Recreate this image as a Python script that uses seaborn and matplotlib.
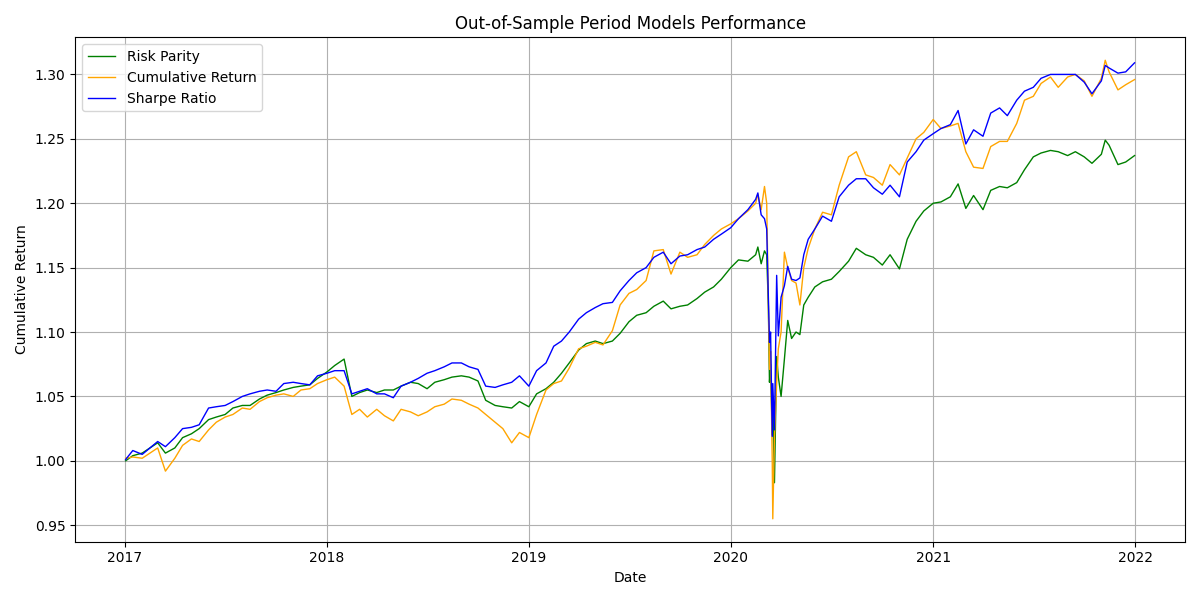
import pandas as pd
import numpy as np
import matplotlib
matplotlib.use("Agg")
import matplotlib.pyplot as plt
import seaborn as sns

# Dates of the read-off points (semi-monthly, denser around the 2020 crash)
dates = [
    # 2017
    "2017-01-02", "2017-01-15", "2017-02-01", "2017-02-15", "2017-03-01", "2017-03-15",
    "2017-04-01", "2017-04-15", "2017-05-01", "2017-05-15", "2017-06-01", "2017-06-15",
    "2017-07-01", "2017-07-15", "2017-08-01", "2017-08-15", "2017-09-01", "2017-09-15",
    "2017-10-01", "2017-10-15", "2017-11-01", "2017-11-15", "2017-12-01", "2017-12-15",
    # 2018
    "2018-01-01", "2018-01-15", "2018-02-01", "2018-02-15", "2018-03-01", "2018-03-15",
    "2018-04-01", "2018-04-15", "2018-05-01", "2018-05-15", "2018-06-01", "2018-06-15",
    "2018-07-01", "2018-07-15", "2018-08-01", "2018-08-15", "2018-09-01", "2018-09-15",
    "2018-10-01", "2018-10-15", "2018-11-01", "2018-11-15", "2018-12-01", "2018-12-15",
    # 2019
    "2019-01-01", "2019-01-15", "2019-02-01", "2019-02-15", "2019-03-01", "2019-03-15",
    "2019-04-01", "2019-04-15", "2019-05-01", "2019-05-15", "2019-06-01", "2019-06-15",
    "2019-07-01", "2019-07-15", "2019-08-01", "2019-08-15", "2019-09-01", "2019-09-15",
    "2019-10-01", "2019-10-15", "2019-11-01", "2019-11-15", "2019-12-01", "2019-12-15",
    # 2020
    "2020-01-01", "2020-01-15", "2020-02-01", "2020-02-15", "2020-02-19", "2020-02-25",
    "2020-03-02", "2020-03-06", "2020-03-09", "2020-03-11", "2020-03-13", "2020-03-16",
    "2020-03-17", "2020-03-20", "2020-03-24", "2020-03-27", "2020-04-01", "2020-04-07",
    "2020-04-13", "2020-04-20", "2020-04-28", "2020-05-05", "2020-05-12", "2020-05-20",
    "2020-06-01", "2020-06-15", "2020-07-01", "2020-07-15", "2020-08-01", "2020-08-15",
    "2020-09-01", "2020-09-15", "2020-10-01", "2020-10-15", "2020-11-01", "2020-11-15",
    "2020-12-01", "2020-12-15",
    # 2021
    "2021-01-01", "2021-01-15", "2021-02-01", "2021-02-15", "2021-03-01", "2021-03-15",
    "2021-04-01", "2021-04-15", "2021-05-01", "2021-05-15", "2021-06-01", "2021-06-15",
    "2021-07-01", "2021-07-15", "2021-08-01", "2021-08-15", "2021-09-01", "2021-09-15",
    "2021-10-01", "2021-10-15", "2021-11-01", "2021-11-08", "2021-11-15", "2021-12-01",
    "2021-12-15", "2021-12-31",
]

risk_parity = [
    1.000, 1.004, 1.006, 1.010, 1.014, 1.006, 1.010, 1.018, 1.021, 1.025, 1.032, 1.034,
    1.036, 1.041, 1.043, 1.043, 1.048, 1.051, 1.053, 1.055, 1.057, 1.058, 1.059, 1.064,
    1.069, 1.074, 1.079, 1.050, 1.053, 1.055, 1.053, 1.055, 1.055, 1.058, 1.061, 1.060,
    1.056, 1.061, 1.063, 1.065, 1.066, 1.065, 1.062, 1.047, 1.043, 1.042, 1.041, 1.046,
    1.042, 1.052, 1.056, 1.061, 1.068, 1.076, 1.086, 1.091, 1.093, 1.091, 1.093, 1.099,
    1.108, 1.113, 1.115, 1.120, 1.124, 1.118, 1.120, 1.121, 1.126, 1.131, 1.135, 1.141,
    1.150, 1.156, 1.155, 1.160, 1.166, 1.153, 1.163, 1.160, 1.120, 1.061, 1.075, 1.020,
    1.040, 0.983, 1.081, 1.065, 1.050, 1.079, 1.109, 1.095, 1.100, 1.098, 1.121, 1.127,
    1.135, 1.139, 1.141, 1.147, 1.155, 1.165, 1.160, 1.158, 1.152, 1.160, 1.149, 1.172,
    1.186, 1.194,
    1.200, 1.201, 1.205, 1.215, 1.196, 1.206, 1.195, 1.210, 1.213, 1.212, 1.216, 1.226,
    1.236, 1.239, 1.241, 1.240, 1.237, 1.240, 1.236, 1.231, 1.238, 1.249, 1.245, 1.230,
    1.232, 1.237,
]

cumulative_return = [
    1.002, 1.003, 1.002, 1.006, 1.010, 0.992, 1.002, 1.012, 1.017, 1.015, 1.024, 1.030,
    1.034, 1.036, 1.041, 1.040, 1.046, 1.049, 1.051, 1.052, 1.050, 1.055, 1.056, 1.060,
    1.063, 1.065, 1.058, 1.036, 1.040, 1.034, 1.040, 1.035, 1.031, 1.040, 1.038, 1.035,
    1.038, 1.042, 1.044, 1.048, 1.047, 1.044, 1.041, 1.036, 1.030, 1.025, 1.014, 1.022,
    1.018, 1.036, 1.055, 1.060, 1.062, 1.072, 1.087, 1.089, 1.092, 1.090, 1.101, 1.121,
    1.130, 1.133, 1.140, 1.163, 1.164, 1.145, 1.162, 1.158, 1.160, 1.168, 1.175, 1.180,
    1.184, 1.188, 1.194, 1.200, 1.207, 1.195, 1.213, 1.200, 1.120, 1.071, 1.085, 1.000,
    0.955, 1.019, 1.060, 1.087, 1.100, 1.162, 1.150, 1.140, 1.138, 1.121, 1.150, 1.165,
    1.180, 1.193, 1.191, 1.214, 1.236, 1.240, 1.222, 1.220, 1.214, 1.230, 1.222, 1.235,
    1.250, 1.255,
    1.265, 1.258, 1.260, 1.262, 1.240, 1.228, 1.227, 1.244, 1.248, 1.248, 1.262, 1.280,
    1.283, 1.293, 1.298, 1.290, 1.298, 1.300, 1.295, 1.283, 1.297, 1.311, 1.302, 1.288,
    1.292, 1.296,
]

sharpe_ratio = [
    1.001, 1.008, 1.005, 1.010, 1.015, 1.011, 1.018, 1.025, 1.026, 1.028, 1.041, 1.042,
    1.043, 1.046, 1.050, 1.052, 1.054, 1.055, 1.054, 1.060, 1.061, 1.060, 1.059, 1.066,
    1.068, 1.070, 1.070, 1.052, 1.054, 1.056, 1.052, 1.052, 1.049, 1.058, 1.061, 1.064,
    1.068, 1.070, 1.073, 1.076, 1.076, 1.073, 1.071, 1.058, 1.057, 1.059, 1.061, 1.066,
    1.058, 1.070, 1.076, 1.089, 1.093, 1.100, 1.110, 1.115, 1.119, 1.122, 1.123, 1.132,
    1.140, 1.146, 1.150, 1.158, 1.162, 1.153, 1.159, 1.160, 1.164, 1.166, 1.172, 1.176,
    1.181, 1.188, 1.195, 1.203, 1.208, 1.191, 1.188, 1.180, 1.126, 1.092, 1.100, 1.019,
    1.060, 1.024, 1.144, 1.097, 1.127, 1.136, 1.151, 1.141, 1.140, 1.142, 1.160, 1.172,
    1.180, 1.190, 1.186, 1.205, 1.214, 1.219, 1.219, 1.212, 1.207, 1.214, 1.205, 1.232,
    1.240, 1.249,
    1.254, 1.258, 1.261, 1.272, 1.246, 1.257, 1.252, 1.270, 1.274, 1.268, 1.280, 1.287,
    1.290, 1.297, 1.300, 1.300, 1.300, 1.300, 1.294, 1.285, 1.295, 1.307, 1.305, 1.301,
    1.302, 1.309,
]

series_names = ["Risk Parity", "Cumulative Return", "Sharpe Ratio"]
series_colors = ["green", "orange", "blue"]

df = pd.DataFrame({
    "Date": pd.to_datetime(dates),
    "Risk Parity": risk_parity,
    "Cumulative Return": cumulative_return,
    "Sharpe Ratio": sharpe_ratio,
})

# Plot
plt.figure(figsize=(12, 6), dpi=100)

for name, color in zip(series_names, series_colors):
    sns.lineplot(x="Date", y=name, data=df, color=color, linewidth=1, label=name)

plt.title("Out-of-Sample Period Models Performance")
plt.xlabel("Date")
plt.ylabel("Cumulative Return")
plt.legend(loc="upper left")
plt.grid(True)

plt.tight_layout()
plt.savefig("out.png", dpi=100)
